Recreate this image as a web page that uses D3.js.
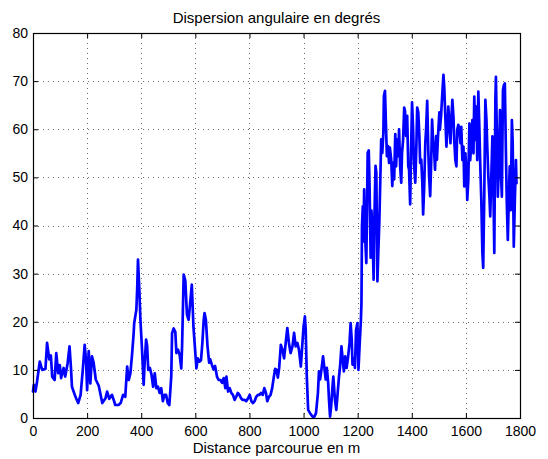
<!DOCTYPE html>
<html>
<head>
<meta charset="utf-8">
<script src="https://cdn.jsdelivr.net/npm/d3@7"></script>
<style>
  html, body { margin: 0; padding: 0; background: #fff; }
  svg { display: block; font-family: "Liberation Sans", Arial, Helvetica, sans-serif; }
</style>
</head>
<body>
<script>
// ---- data ----
const titleText = "Dispersion angulaire en degrés";
const xLabelText = "Distance parcourue en m";
const xTicks = [0, 200, 400, 600, 800, 1000, 1200, 1400, 1600, 1800];
const yTicks = [0, 10, 20, 30, 40, 50, 60, 70, 80];

// distance (m)
const distance = [
  0,3,9,15,25,34,46,52,60,66,71,80,86,93,99,104,113,119,128,135,140,144,157,167,176,184,191,196,200,206,212,218,224,232,243,256,268,274,282,292,298,
  304,316,324,333,341,348,354,360,366,372,374,382,385,388,393,397,403,409,412,418,422,426,432,438,444,450,456,462,468,474,480,486,492,498,504,511,514,520,526,530,536,542,548,551,557,563,569,575,581,587,593,600,604,
  609,615,621,626,631,634,639,645,651,655,661,667,673,680,686,693,699,705,711,715,721,727,733,739,745,751,757,763,769,775,782,788,795,801,807,813,819,825,831,837,843,849,855,861,866,872,878,884,890,895,900,905,910,
  916,922,928,934,940,946,952,959,965,971,977,983,990,995,1000,1005,1008,1012,1017,1024,1033,1040,1046,1053,1057,1061,1066,1072,1077,1082,1086,1091,1094,1098,1102,1107,1110,1116,1121,1126,1131,1135,1140,1145,1149,1154,1159,1164,1170,1174,1178,1181,1186,1190,1194,1199,1203,1207,1212,1214,
  1216,1219,1221,1224,1227,1232,1235,1237,1241,1244,1248,1251,1255,1259,1262,1266,1269,1273,1277,1280,1284,1287,1291,1295,1297,1301,1305,1308,1312,1316,1319,1324,1328,1331,1335,1339,1342,1346,1350,1353,1357,1361,1364,1368,1372,1375,1379,1383,1387,1390,1394,1397,1401,1405,1408,1413,1417,1420,1424,1428,1431,1435,1439,1442,1446,1450,1453,1457,1461,1464,1468,1472,1475,1479,1483,1486,1490,1493,1497,1502,
  1504,1508,1513,1517,1520,1524,1528,1532,1535,1539,1543,1546,1550,1554,1557,1561,1565,1568,1572,1576,1580,1583,1587,1591,1594,1598,1602,1605,1609,1613,1616,1620,1624,1628,1631,1635,1639,1642,1646,1650,1653,1657,1661,1664,1668,1672,1676,1679,1683,1687,1690,1694,1698,1701,1705,1709,1711,1715,1718,1722,1726,1729,1733,1737,1740,1744,1748,1751,1755,1759,1762,1766,1770,1773,1777,1781,1785,1787
];
// angular dispersion (degrees)
const dispersion = [
  5.5,6.9,5.5,7.6,11.7,10,10.2,15.6,12.2,13,8.6,7.9,13.5,9.3,11,8.3,10.4,8.6,11.4,14.9,10.7,6.5,4.4,3.1,4.8,10,15.2,12.1,5.8,13.9,7.2,12.8,11.5,8,6.7,3.1,4.1,5.5,4,4.8,3.8,
  2.7,2.7,3.1,4.8,4.4,10.7,7.9,9.3,13.1,17.6,19.7,22.5,26.7,32.9,26.7,20.4,14.2,6.9,10.7,16.3,14.9,10,10.4,9,6.5,9.3,6.2,6.5,5.2,6.2,3.5,4.8,4.8,3.1,2.7,8.6,17.6,18.6,17.9,13.5,14.2,13.1,10.3,14.9,29.8,28.5,21.5,20.4,23.9,27.7,19,13.5,10.3,
  12.4,11.7,12,15.6,20.4,21.8,20.4,14.9,11.5,12.2,11.1,10.1,10.8,8.6,7.9,7.9,7.3,8.3,6.2,8.6,5.5,6.2,5.2,4.8,3.75,4.4,5.2,4.8,4.1,3.75,3.75,3.5,4.1,4.8,3.5,3.1,3.5,4.4,4.8,4.8,5.2,4.8,6.2,5.2,3.5,4.4,4.8,6.2,8.5,10.2,10,8.4,10.5,
  15.2,14.2,12.4,15.6,18.7,15.6,13.5,14.9,17.7,14.9,15.6,14.2,10.7,14.9,19,21.1,18.3,8.6,1.7,1,0.3,0.3,1,5.1,9.7,8,10,12.8,10.4,8,10.4,7.3,3.8,0.3,2.4,6.6,8.6,3.8,1.7,5.1,8.6,10.7,14.9,12.1,9.7,12.8,10.4,12.4,15.6,19.7,16.3,11.1,12.4,10.4,18.3,19.7,10,14.9,20.4,23.9,
  39.9,44,36.7,47.5,38.5,32.2,45.8,55.1,55.6,48.2,33.3,43.1,38.2,28.75,41.7,52.4,51,28.4,35.7,40.6,50.3,57.9,55.1,59.3,66.9,68,60,54.4,56.5,53,56.2,53.7,48.2,53,49.6,59,52.3,57.9,54.4,60,52.3,48.9,55.1,57.9,64.5,63.8,58.6,62.8,52.3,51.6,44.4,54.4,65.6,60,53,48.9,56.5,64.5,63.5,58.6,53,53.7,48.9,42.3,48.2,57.2,60,65.9,55.8,50.3,46.1,53.7,62,57.2,55.1,51.6,58.6,53.7,58.6,63.5,
  59.9,62.6,67.5,71.3,68.8,62.6,56.4,60.5,64.7,61.2,57.1,61.9,66.1,62.6,57.7,53.6,52.3,59.9,60.9,59.9,57.1,60.5,53.6,56.4,48.1,55,51.6,45.3,49.5,61.2,53.6,57.1,61.9,55,66.8,57.8,64.7,53.6,67.8,59.9,52.9,45.3,34.3,31.2,46.6,66.1,61.9,56.4,50.2,46,41.9,50.2,58.5,50.9,34.3,66.1,70.9,57.1,46,52.9,64,51.6,46,68.1,69.1,69.5,55,45.3,37,46.6,52.3,43.2,61.9,57.1,35.6,45.3,53.6,48.8
];

// ---- drawing ----
const W = 548, H = 459;
const plot = { left: 33, right: 520, top: 33, bottom: 418 };

const svg = d3.select("body").append("svg").attr("width", W).attr("height", H);
svg.append("rect").attr("width", W).attr("height", H).attr("fill", "#fff");

const x = d3.scaleLinear().domain([0, 1800]).range([plot.left, plot.right]);
const y = d3.scaleLinear().domain([0, 80]).range([plot.bottom, plot.top]);

// grid
const grid = svg.append("g").attr("stroke", "#6e6e6e").attr("stroke-width", 1)
  .attr("stroke-dasharray", "1,4").attr("shape-rendering", "crispEdges");
grid.selectAll("line.vx").data(xTicks.slice(1, -1)).enter().append("line")
  .attr("x1", d => Math.round(x(d)) + 0.5).attr("x2", d => Math.round(x(d)) + 0.5)
  .attr("y1", plot.top).attr("y2", plot.bottom);
grid.selectAll("line.hy").data(yTicks.slice(1, -1)).enter().append("line")
  .attr("x1", plot.left).attr("x2", plot.right)
  .attr("y1", d => Math.round(y(d)) + 0.5).attr("y2", d => Math.round(y(d)) + 0.5);

// data line
const pts = distance.map((d, i) => [d, dispersion[i]]);
const line = d3.line().x(d => x(d[0])).y(d => y(d[1]));
svg.append("path").datum(pts).attr("d", line)
  .attr("fill", "none").attr("stroke", "#0000ff").attr("stroke-width", 2.7)
  .attr("stroke-linejoin", "round").attr("stroke-linecap", "round");

// axes
function styleAxis(g) {
  g.select(".domain").remove();
  g.selectAll(".tick line").attr("stroke", "#000").attr("stroke-width", 1);
  g.selectAll(".tick text").attr("fill", "#000").attr("font-size", 14)
    .attr("font-family", "'Liberation Sans', Arial, Helvetica, sans-serif");
}
svg.append("g").attr("transform", `translate(0,${plot.bottom})`)
  .call(d3.axisBottom(x).tickValues(xTicks).tickFormat(d3.format("d")).tickSizeInner(-5).tickSizeOuter(0).tickPadding(8))
  .call(styleAxis);
svg.append("g").attr("transform", `translate(0,${plot.top})`)
  .call(d3.axisTop(x).tickValues(xTicks).tickFormat("").tickSizeInner(-5).tickSizeOuter(0))
  .call(styleAxis);
svg.append("g").attr("transform", `translate(${plot.left},0)`)
  .call(d3.axisLeft(y).tickValues(yTicks).tickFormat(d3.format("d")).tickSizeInner(-5).tickSizeOuter(0).tickPadding(5))
  .call(styleAxis);
svg.append("g").attr("transform", `translate(${plot.right},0)`)
  .call(d3.axisRight(y).tickValues(yTicks).tickFormat("").tickSizeInner(-5).tickSizeOuter(0))
  .call(styleAxis);

// box
svg.append("rect")
  .attr("x", plot.left + 0.5).attr("y", plot.top + 0.5)
  .attr("width", plot.right - plot.left).attr("height", plot.bottom - plot.top)
  .attr("fill", "none").attr("stroke", "#000").attr("stroke-width", 1.2);

// title and label
svg.append("text").attr("x", (plot.left + plot.right) / 2).attr("y", 23)
  .attr("text-anchor", "middle").attr("font-size", 15).attr("fill", "#000").text(titleText);
svg.append("text").attr("x", (plot.left + plot.right) / 2).attr("y", 453)
  .attr("text-anchor", "middle").attr("font-size", 15).attr("fill", "#000").text(xLabelText);
</script>
</body>
</html>
